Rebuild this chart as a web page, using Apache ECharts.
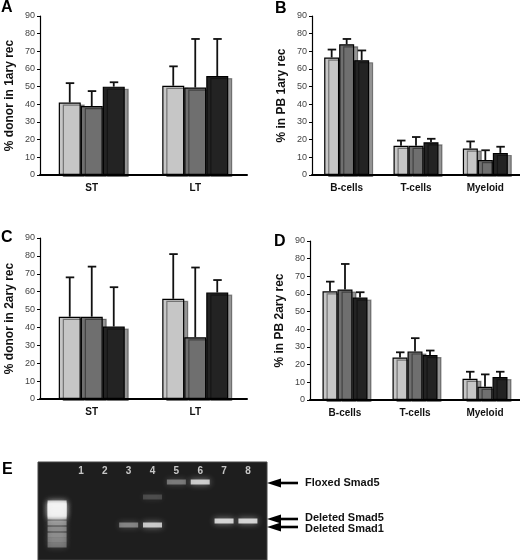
<!DOCTYPE html>
<html><head><meta charset="utf-8">
<script src="https://cdn.jsdelivr.net/npm/echarts@6/dist/echarts.min.js"></script>
<style>html,body{margin:0;padding:0;background:#fff}#c{width:520px;height:560px}</style>
</head><body><div id="c"></div><script>
// ---------- data ----------
const groupsStem = ['ST', 'LT'];
const groupsCells = ['B-cells', 'T-cells', 'Myeloid'];
const yTickMax = 90;
const yTickStep = 10;
// each row = one bar series (light, mid, dark); columns = categories
const aMeans = [[41, 50.5], [39, 49.5], [50, 56]];
const aTops  = [[52, 61.5], [47.5, 77], [52.5, 77]];
const bMeans = [[66.5, 16.5, 15], [74, 16.5, 8.5], [65, 18.5, 12.5]];
const bTops  = [[71, 19.5, 19], [77, 21.5, 14], [70.5, 20.5, 16]];
const cMeans = [[46, 56], [46, 34.5], [40.5, 59.5]];
const cTops  = [[68, 81], [74, 73.5], [62.5, 66.5]];
const dMeans = [[61.5, 24, 12], [62.5, 27.5, 7.5], [58, 25.5, 13]];
const dTops  = [[67, 27, 16], [77, 35, 14.5], [61, 28, 16]];
const yNames = ['% donor in 1ary rec', '% in PB 1ary rec', '% donor in 2ary rec', '% in PB 2ary rec'];
const panelLetters = ['A', 'B', 'C', 'D', 'E'];
// gel: lane index (0 = ladder), migration distance, intensity
const gelLaneNames = ['1', '2', '3', '4', '5', '6', '7', '8'];
const gelLaneIdx = [1, 2, 3, 4, 5, 6, 7, 8];
const bandLane = [5, 6, 4, 3, 4, 7, 8, 0, 0, 0, 0, 0, 0, 0, 0, 0, 0, 0, 0, 0];
const bandPos  = [20, 20, 35, 63, 63, 59, 59, 41, 43, 45, 47, 49, 51, 53, 55, 61, 67, 73, 78, 83];
const bandInt  = [0.45, 0.95, 0.22, 0.5, 0.92, 1, 1, 0.95, 0.95, 0.9, 0.9, 0.85, 0.85, 0.8, 0.8, 0.55, 0.5, 0.5, 0.45, 0.4];
const gelLabels = ['Floxed Smad5', 'Deleted Smad5', 'Deleted Smad1'];

// ---------- styling ----------
const FONT = 'Liberation Sans, Arial, sans-serif';
const barColors = ['#c6c6c6', '#6f6f6f', '#232323'];
const grids = [
  {left: 40, top: 16, width: 207, height: 159},
  {left: 312, top: 16, width: 208, height: 159},
  {left: 40, top: 238, width: 207, height: 161},
  {left: 310, top: 241, width: 210, height: 159},
  {left: 38, top: 462, width: 229, height: 98, show: true, backgroundColor: '#1e1e1e', borderColor: '#444', borderWidth: 1}
];
const panels = [
  {cats: groupsStem, means: aMeans, tops: aTops, barW: 22},
  {cats: groupsCells, means: bMeans, tops: bTops, barW: 15},
  {cats: groupsStem, means: cMeans, tops: cTops, barW: 22},
  {cats: groupsCells, means: dMeans, tops: dTops, barW: 15}
];

const xAxes = [], yAxes = [], series = [];
panels.forEach((p, g) => {
  xAxes.push({
    gridIndex: g, type: 'category', data: p.cats,
    axisLine: {lineStyle: {color: '#000', width: 2}},
    axisTick: {show: false},
    axisLabel: {fontFamily: FONT, fontWeight: 'bold', fontSize: 10, color: '#111', margin: 8}
  });
  yAxes.push({
    gridIndex: g, type: 'value', min: 0, max: yTickMax, interval: yTickStep,
    name: yNames[g], nameLocation: 'middle', nameGap: 24,
    nameTextStyle: {fontFamily: FONT, fontWeight: 'bold', fontSize: 12, color: '#111'},
    axisLine: {show: true, lineStyle: {color: '#000', width: 1.2}},
    axisTick: {show: true, length: 3, lineStyle: {color: '#000'}},
    axisLabel: {fontFamily: FONT, fontSize: 9, color: '#444', margin: 5},
    splitLine: {show: false}
  });
  p.means.forEach((vals, s) => {
    series.push({
      type: 'bar', xAxisIndex: g, yAxisIndex: g, data: vals,
      barWidth: p.barW, barGap: '0%',
      itemStyle: {color: barColors[s], borderColor: '#000', borderWidth: 1.2,
        shadowColor: 'rgba(0,0,0,0.42)', shadowOffsetX: 4, shadowOffsetY: 2, shadowBlur: 0},
      emphasis: {disabled: true}
    });
  });
  const errData = [];
  p.means.forEach((vals, s) => vals.forEach((v, c) => errData.push([c, s, v, p.tops[s][c]])));
  const bw = p.barW;
  series.push({
    type: 'custom', xAxisIndex: g, yAxisIndex: g, z: 5, data: errData,
    encode: {x: 0, y: 3},
    renderItem: (params, api) => {
      const base = api.coord([api.value(0), api.value(2)]);
      const top = api.coord([api.value(0), api.value(3)]);
      const x = base[0] + (api.value(1) - 1) * bw;
      const st = {stroke: '#111', lineWidth: 1.8};
      return {type: 'group', children: [
        {type: 'line', shape: {x1: x, y1: base[1], x2: x, y2: top[1]}, style: st},
        {type: 'line', shape: {x1: x - 4, y1: top[1], x2: x + 4.5, y2: top[1]}, style: st}
      ]};
    }
  });
});

// gel axes
xAxes.push({gridIndex: 4, type: 'value', min: -0.8, max: 8.8, show: false});
yAxes.push({gridIndex: 4, type: 'value', min: 0, max: 98, inverse: true, show: false});
series.push({
  type: 'scatter', xAxisIndex: 4, yAxisIndex: 4, symbol: 'rect', symbolSize: [19, 5],
  data: bandLane.map((l, i) => [l, bandPos[i], bandInt[i]]),
  itemStyle: {
    color: p => 'rgba(245,245,245,' + p.value[2] + ')',
    shadowBlur: 6, shadowColor: 'rgba(255,255,255,0.6)'
  },
  emphasis: {disabled: true}
});
series.push({
  type: 'scatter', xAxisIndex: 4, yAxisIndex: 4, symbolSize: 0,
  data: gelLaneIdx.map((l, i) => [l, 9, gelLaneNames[i]]),
  label: {show: true, position: 'inside', formatter: p => p.data[2],
    color: '#f0f0f0', fontFamily: FONT, fontWeight: 'bold', fontSize: 10},
  emphasis: {disabled: true}
});

// annotations
const letterPos = [[1, 0], [275, 1], [1, 230], [274, 234], [2, 462]];
const graphic = panelLetters.map((t, i) => ({
  type: 'text', left: letterPos[i][0], top: letterPos[i][1],
  style: {text: t, font: 'bold 16px ' + FONT, fill: '#000'}
}));
const arrowYs = [483, 519, 527];
const textYs = [483, 518, 529];
arrowYs.forEach((y, i) => {
  graphic.push({type: 'polygon', shape: {points: [[267, y], [281, y - 4.5], [281, y + 4.5]]}, style: {fill: '#000'}});
  graphic.push({type: 'rect', shape: {x: 279, y: y - 1.3, width: 19, height: 2.6}, style: {fill: '#000'}});
  graphic.push({type: 'text', x: 305, y: textYs[i],
    style: {text: gelLabels[i], font: 'bold 11px ' + FONT, fill: '#111', verticalAlign: 'middle'}});
});

const chart = echarts.init(document.getElementById('c'), null, {renderer: 'canvas'});
chart.setOption({
  animation: false,
  grid: grids,
  xAxis: xAxes,
  yAxis: yAxes,
  series: series,
  graphic: graphic
});
</script></body></html>
